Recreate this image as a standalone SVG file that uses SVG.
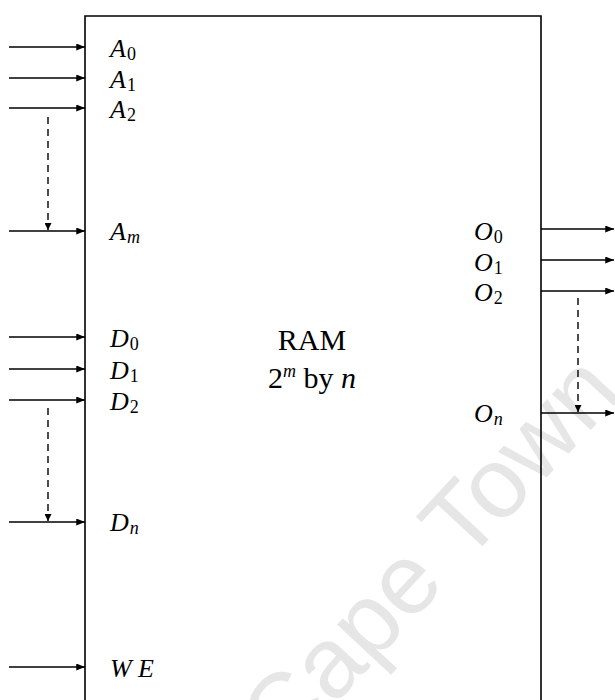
<svg xmlns="http://www.w3.org/2000/svg" width="615" height="700" viewBox="0 0 615 700">
<defs>
<marker id="ah" viewBox="0 0 10 8" refX="10" refY="4" markerWidth="10" markerHeight="7" markerUnits="userSpaceOnUse" orient="auto">
<path d="M0,0 L10,4 L0,8 Z" fill="#000"/>
</marker>
<marker id="ahs" viewBox="0 0 8 8" refX="4" refY="8" markerWidth="7" markerHeight="8" markerUnits="userSpaceOnUse" orient="0">
<path d="M0,0 L8,0 L4,8 Z" fill="#000"/>
</marker>
</defs>
<style>
.w{stroke:#000;stroke-width:1.6;fill:none}
.d{stroke:#000;stroke-width:1.4;fill:none;stroke-dasharray:7,5}
.v{font-family:"Liberation Serif",serif;font-style:italic;font-size:26px;fill:#000}
.s{font-family:"Liberation Serif",serif;font-style:normal;font-size:18px}
.si{font-family:"Liberation Serif",serif;font-style:italic;font-size:18px}
.m{font-family:"Liberation Serif",serif;font-size:30px;fill:#000}
.wm{font-family:"Liberation Sans",sans-serif;font-size:100px;fill:#e6e6e6}
</style>
<rect width="615" height="700" fill="#fff"/>
<text class="wm" transform="translate(284,759) rotate(-47)">Cape Town</text>
<g id="ram">
<path class="w" d="M85,705 L85,16 L541,16 L541,705"/>
<text class="m" x="312" y="350" text-anchor="middle">RAM</text>
<text class="m" x="312" y="388" text-anchor="middle">2<tspan class="si" font-size="20" dy="-11">m</tspan><tspan dy="11">  by </tspan><tspan font-style="italic">n</tspan></text>
</g>
<g id="labels">
<text class="v" x="110" y="57">A<tspan class="s" dx="1" dy="3">0</tspan></text>
<text class="v" x="110" y="88">A<tspan class="s" dx="1" dy="3">1</tspan></text>
<text class="v" x="110" y="118">A<tspan class="s" dx="1" dy="3">2</tspan></text>
<text class="v" x="110" y="240">A<tspan class="si" dx="1" dy="3">m</tspan></text>
<text class="v" x="110" y="347">D<tspan class="s" dx="1" dy="3">0</tspan></text>
<text class="v" x="110" y="379">D<tspan class="s" dx="1" dy="3">1</tspan></text>
<text class="v" x="110" y="410">D<tspan class="s" dx="1" dy="3">2</tspan></text>
<text class="v" x="110" y="531">D<tspan class="si" dx="1" dy="3">n</tspan></text>
<text class="v" x="110" y="677">W<tspan x="138">E</tspan></text>
<text class="v" x="474" y="240">O<tspan class="s" dx="1" dy="3">0</tspan></text>
<text class="v" x="474" y="271">O<tspan class="s" dx="1" dy="3">1</tspan></text>
<text class="v" x="474" y="301">O<tspan class="s" dx="1" dy="3">2</tspan></text>
<text class="v" x="474" y="422">O<tspan class="si" dx="1" dy="3">n</tspan></text>
</g>
<g id="connectors">
<line class="w" x1="9" y1="47" x2="85" y2="47" marker-end="url(#ah)"/>
<line class="w" x1="9" y1="78" x2="85" y2="78" marker-end="url(#ah)"/>
<line class="w" x1="9" y1="108" x2="85" y2="108" marker-end="url(#ah)"/>
<line class="w" x1="9" y1="231" x2="85" y2="231" marker-end="url(#ah)"/>
<line class="d" x1="48" y1="117" x2="48" y2="230" marker-end="url(#ahs)"/>
<line class="w" x1="9" y1="337" x2="85" y2="337" marker-end="url(#ah)"/>
<line class="w" x1="9" y1="369" x2="85" y2="369" marker-end="url(#ah)"/>
<line class="w" x1="9" y1="400" x2="85" y2="400" marker-end="url(#ah)"/>
<line class="w" x1="9" y1="522" x2="85" y2="522" marker-end="url(#ah)"/>
<line class="d" x1="48" y1="408" x2="48" y2="521" marker-end="url(#ahs)"/>
<line class="w" x1="9" y1="667" x2="85" y2="667" marker-end="url(#ah)"/>
<line class="w" x1="541" y1="229" x2="614" y2="229" marker-end="url(#ah)"/>
<line class="w" x1="541" y1="260" x2="614" y2="260" marker-end="url(#ah)"/>
<line class="w" x1="541" y1="291" x2="614" y2="291" marker-end="url(#ah)"/>
<line class="w" x1="541" y1="413" x2="614" y2="413" marker-end="url(#ah)"/>
<line class="d" x1="578" y1="298" x2="578" y2="412" marker-end="url(#ahs)"/>
</g>
</svg>
